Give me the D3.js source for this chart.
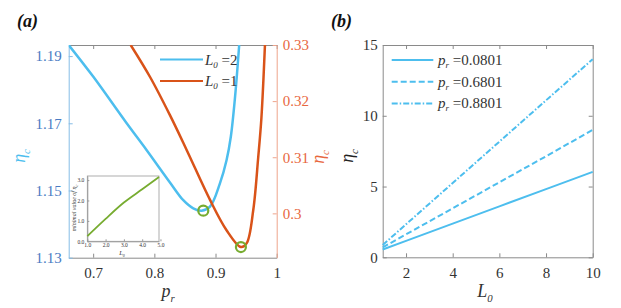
<!DOCTYPE html>
<html>
<head>
<meta charset="utf-8">
<script src="https://cdn.jsdelivr.net/npm/d3@7"></script>
<style>
  body { margin: 0; background: #fff; }
  svg text { font-family: "Liberation Serif", "Times New Roman", "DejaVu Serif", serif !important; }
</style>
</head>
<body>
<svg id="fig" width="621" height="308"></svg>
<script>
// ---- panel (a): eta_c against p_r ----
const prL2 = [0.66, 0.70, 0.7548, 0.7875, 0.8255, 0.8473, 0.8636, 0.8773, 0.891, 0.9072, 0.918, 0.925, 0.932, 0.9387];
const etaL2 = [1.1933, 1.1839, 1.170, 1.162, 1.1524, 1.1471, 1.1447, 1.1440, 1.1452, 1.1521, 1.159, 1.166, 1.178, 1.1933];
const prL1 = [0.7613, 0.793, 0.8255, 0.8528, 0.891, 0.918, 0.9415, 0.951, 0.9617, 0.9698, 0.975, 0.9808];
const etaL1 = [0.330, 0.3243, 0.3175, 0.3113, 0.3024, 0.2970, 0.2940, 0.2947, 0.3006, 0.3100, 0.3170, 0.330];
const minPoints = [{ p: 0.880, v: 1.1440, axis: 'left' }, { p: 0.9415, v: 0.2940, axis: 'right' }];
const xTicksA = [0.7, 0.8, 0.9, 1];
const yTicksLeft = [1.13, 1.15, 1.17, 1.19];
const yTicksRight = [0.3, 0.31, 0.32, 0.33];

// inset: minimal eta_c against L0
const insetL0 = [1, 2, 3, 4, 4.92];
const insetMin = [0.25, 1.1, 1.9, 2.55, 3.15];

// ---- panel (b): eta_c against L0 ----
const L0 = [1, 2, 4, 6, 8, 10];
const eta0801 = [0.55, 1.16, 2.38, 3.60, 4.82, 6.04];
const eta6801 = [0.70, 1.62, 3.46, 5.30, 7.14, 9.00];
const eta8801 = [0.87, 2.33, 5.25, 8.17, 11.09, 14.00];
const prLabels = ['0.0801', '0.6801', '0.8801'];
const xTicksB = [2, 4, 6, 8, 10];
const yTicksB = [0, 5, 10, 15];

const cBlue = '#4DBEEE';
const cRed = '#D95319';
const cGreen = '#77AC30';
const cBlueText = '#4a7cc3';
const cRedText = '#e8673e';
const cGrey = '#8a8a8a';
const serif = '"Liberation Serif", "Times New Roman", "DejaVu Serif", serif';

const svg = d3.select('#fig');

function styleAxis(g, lineColor, textColor, size) {
  g.attr('font-family', serif);
  g.select('.domain').attr('stroke', lineColor).attr('stroke-width', 1);
  g.selectAll('.tick line').attr('stroke', lineColor);
  g.selectAll('.tick text')
    .attr('fill', textColor)
    .style('font-size', size + 'px');
}

// label with italic main letter and small subscript
function subLabel(parent, x, y, main, sub, size, color, rotate) {
  let t = parent.append('text')
    .attr('text-anchor', 'middle')
    .attr('fill', color)
    .style('font-size', size + 'px')
    .style('font-style', 'italic');
  if (rotate) {
    t.attr('transform', `translate(${x},${y}) rotate(-90)`);
  } else {
    t.attr('x', x).attr('y', y);
  }
  t.append('tspan').text(main);
  t.append('tspan').attr('dy', size * 0.28).style('font-size', (size * 0.6) + 'px').text(sub);
  return t;
}

// ===== panel (a) =====
let xA = d3.scaleLinear().domain([0.66, 1]).range([68.7, 276.7]);
let yL = d3.scaleLinear().domain([1.13, 1.1933]).range([257.7, 45]);
let yR = d3.scaleLinear().domain([0.2921, 0.33]).range([257.7, 45]);

let pa = svg.append('g');

// top and bottom box lines with inside ticks
let axTop = pa.append('g').attr('transform', 'translate(0,45)')
  .call(d3.axisTop(xA).tickValues(xTicksA).tickSize(-4).tickSizeOuter(0).tickFormat(''));
styleAxis(axTop, cGrey, '#333', 15);

let axBottom = pa.append('g').attr('transform', 'translate(0,257.7)')
  .call(d3.axisBottom(xA).tickValues(xTicksA).tickSize(-4).tickSizeOuter(0).tickPadding(10).tickFormat(d3.format('')));
styleAxis(axBottom, cGrey, '#333', 15);

let axLeft = pa.append('g').attr('transform', 'translate(68.7,0)')
  .call(d3.axisLeft(yL).tickValues(yTicksLeft).tickSize(-4).tickSizeOuter(0).tickPadding(7).tickFormat(d3.format('.2f')));
styleAxis(axLeft, '#86bde6', cBlueText, 15);

let axRight = pa.append('g').attr('transform', 'translate(276.7,0)')
  .call(d3.axisRight(yR).tickValues(yTicksRight).tickSize(-4).tickSizeOuter(0).tickPadding(6).tickFormat(d3.format('')));
styleAxis(axRight, '#eea48c', cRedText, 15);

pa.append('defs').append('clipPath').attr('id', 'clipA')
  .append('rect').attr('x', 68.7).attr('y', 45).attr('width', 208).attr('height', 212.7);

let curves = pa.append('g').attr('clip-path', 'url(#clipA)');

let lineL2 = d3.line().x(d => xA(d[0])).y(d => yL(d[1])).curve(d3.curveCatmullRom);
let lineL1 = d3.line().x(d => xA(d[0])).y(d => yR(d[1])).curve(d3.curveCatmullRom);

curves.append('path')
  .datum(d3.zip(prL2, etaL2))
  .attr('d', lineL2)
  .attr('fill', 'none').attr('stroke', cBlue).attr('stroke-width', 2.5);

curves.append('path')
  .datum(d3.zip(prL1, etaL1))
  .attr('d', lineL1)
  .attr('fill', 'none').attr('stroke', cRed).attr('stroke-width', 2.5);

pa.selectAll('.minCircle')
  .data(minPoints)
  .enter()
  .append('circle')
  .attr('cx', d => xA(d.p))
  .attr('cy', d => d.axis === 'left' ? yL(d.v) : yR(d.v))
  .attr('r', 5)
  .attr('fill', 'none')
  .attr('stroke', cGreen)
  .attr('stroke-width', 2.2);

// legend
let legA = pa.append('g');
[{ c: cBlue, v: '2' }, { c: cRed, v: '1' }].forEach((d, i) => {
  let y = 59.5 + i * 21.5;
  legA.append('line').attr('x1', 160).attr('x2', 203).attr('y1', y).attr('y2', y)
    .attr('stroke', d.c).attr('stroke-width', 2.2);
  let t = legA.append('text').attr('x', 205).attr('y', y + 5).attr('fill', '#333').style('font-size', '15px');
  t.append('tspan').style('font-style', 'italic').text('L');
  t.append('tspan').attr('dy', 3).style('font-size', '9px').style('font-style', 'italic').text('0');
  t.append('tspan').attr('dy', -3).text(' =' + d.v);
});

// axis labels
subLabel(pa, 25, 156, 'η', 'c', 18, cBlue, true);
subLabel(pa, 324, 157, 'η', 'c', 18, cRedText, true);
subLabel(pa, 168, 297, 'p', 'r', 18, '#333', false);

pa.append('text').attr('x', 17).attr('y', 27)
  .style('font-size', '18px').style('font-weight', 'bold').style('font-style', 'italic')
  .attr('fill', '#111').text('(a)');

// inset
let xI = d3.scaleLinear().domain([1, 4.92]).range([87.3, 159]);
let yI = d3.scaleLinear().domain([0, 3.2]).range([241.3, 176]);
let ins = pa.append('g');
ins.append('rect').attr('x', 87.3).attr('y', 176).attr('width', 71.7).attr('height', 65.3)
  .attr('fill', '#fff').attr('stroke', '#999').attr('stroke-width', 0.8);
let insX = ins.append('g').attr('transform', 'translate(0,241.3)')
  .call(d3.axisBottom(xI).tickValues([1, 2, 3, 4, 5]).tickSize(-2).tickSizeOuter(0).tickPadding(2));
styleAxis(insX, '#999', '#333', 5.5);
let insY = ins.append('g').attr('transform', 'translate(87.3,0)')
  .call(d3.axisLeft(yI).tickValues([0, 1, 2, 3]).tickSize(-2).tickSizeOuter(0).tickPadding(3));
styleAxis(insY, '#999', '#333', 5.5);
ins.append('path')
  .datum(d3.zip(insetL0, insetMin))
  .attr('d', d3.line().x(d => xI(d[0])).y(d => yI(d[1])).curve(d3.curveMonotoneX))
  .attr('fill', 'none').attr('stroke', cGreen).attr('stroke-width', 1.8);
let insLab = ins.append('text').attr('transform', 'translate(76,208) rotate(-90)')
  .attr('text-anchor', 'middle').style('font-size', '6px').style('font-style', 'italic').attr('fill', '#333');
insLab.append('tspan').text('minimal value of η');
insLab.append('tspan').attr('dy', 1.5).style('font-size', '4px').text('c');
subLabel(ins, 122, 255, 'L', '0', 6.5, '#333', false);

// ===== panel (b) =====
let xB = d3.scaleLinear().domain([1, 10]).range([382.7, 592.7]);
let yB = d3.scaleLinear().domain([0, 15]).range([257.3, 45]);
let pb = svg.append('g');

let bTop = pb.append('g').attr('transform', 'translate(0,45)')
  .call(d3.axisTop(xB).tickValues(xTicksB).tickSize(-4).tickSizeOuter(0).tickFormat(''));
styleAxis(bTop, cGrey, '#333', 15);
let bBottom = pb.append('g').attr('transform', 'translate(0,257.3)')
  .call(d3.axisBottom(xB).tickValues(xTicksB).tickSize(-4).tickSizeOuter(0).tickPadding(10));
styleAxis(bBottom, cGrey, '#333', 15);
let bLeft = pb.append('g').attr('transform', 'translate(382.7,0)')
  .call(d3.axisLeft(yB).tickValues(yTicksB).tickSize(-4).tickSizeOuter(0).tickPadding(5));
styleAxis(bLeft, cGrey, '#333', 15);
let bRight = pb.append('g').attr('transform', 'translate(592.7,0)')
  .call(d3.axisRight(yB).tickValues(yTicksB).tickSize(-4).tickSizeOuter(0).tickFormat(''));
styleAxis(bRight, cGrey, '#333', 15);

let dashes = [null, '6,3', '6,2,1.5,2'];
let seriesB = [eta0801, eta6801, eta8801];
let lineB = d3.line().x(d => xB(d[0])).y(d => yB(d[1]));
seriesB.forEach((vals, i) => {
  pb.append('path')
    .datum(d3.zip(L0, vals))
    .attr('d', lineB)
    .attr('fill', 'none').attr('stroke', cBlue).attr('stroke-width', 2)
    .attr('stroke-dasharray', dashes[i]);
});

let legB = pb.append('g');
prLabels.forEach((lab, i) => {
  let y = 60 + i * 21.7;
  legB.append('line').attr('x1', 391.7).attr('x2', 433.3).attr('y1', y).attr('y2', y)
    .attr('stroke', cBlue).attr('stroke-width', 2).attr('stroke-dasharray', dashes[i]);
  let t = legB.append('text').attr('x', 438).attr('y', y + 5).attr('fill', '#333').style('font-size', '15px');
  t.append('tspan').style('font-style', 'italic').text('p');
  t.append('tspan').attr('dy', 3).style('font-size', '9px').style('font-style', 'italic').text('r');
  t.append('tspan').attr('dy', -3).text(' =' + lab);
});

subLabel(pb, 353, 156, 'η', 'c', 18, '#222', true);
subLabel(pb, 485, 297, 'L', '0', 18, '#333', false);

pb.append('text').attr('x', 331).attr('y', 27)
  .style('font-size', '18px').style('font-weight', 'bold').style('font-style', 'italic')
  .attr('fill', '#111').text('(b)');
</script>
</body>
</html>
